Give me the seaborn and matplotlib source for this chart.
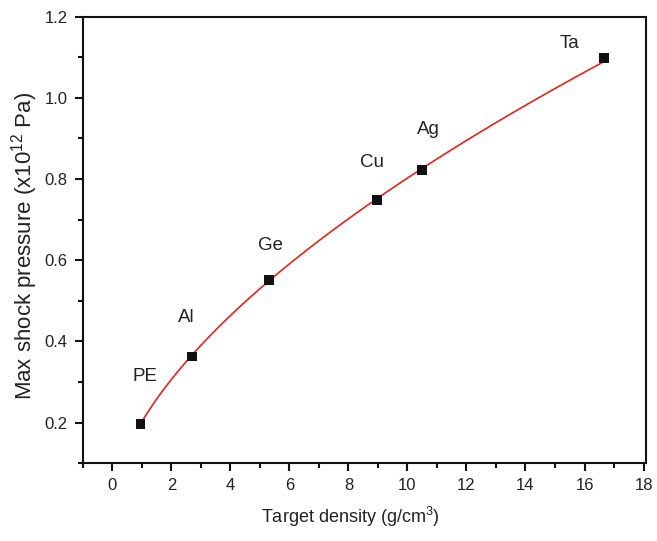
import numpy as np
import pandas as pd
import matplotlib
matplotlib.use("Agg")
import matplotlib.pyplot as plt
from matplotlib.ticker import MultipleLocator, FormatStrFormatter
import seaborn as sns

materials = ["PE", "Al", "Ge", "Cu", "Ag", "Ta"]
density = [0.95, 2.70, 5.32, 8.96, 10.49, 16.65]
pressure = [0.197, 0.363, 0.551, 0.749, 0.822, 1.098]
label_x = [1.1, 2.5, 5.35, 8.8, 10.7, 15.5]
label_y = [0.314, 0.459, 0.637, 0.842, 0.923, 1.133]

sns.set_style("ticks")
plt.rcParams["font.family"] = ["Liberation Sans", "DejaVu Sans"]
plt.rcParams["mathtext.fontset"] = "custom"
plt.rcParams["mathtext.rm"] = "Liberation Sans"

df = pd.DataFrame({"density": density, "pressure": pressure})

# power-law fit for the smooth red curve
b, loga = np.polyfit(np.log(df.density), np.log(df.pressure), 1)
xs = np.linspace(df.density.min(), df.density.max(), 200)
fit = pd.DataFrame({"density": xs, "pressure": np.exp(loga) * xs ** b})

fig = plt.figure(figsize=(6.57, 5.41), dpi=100)
ax = fig.add_axes([0.126, 0.144, 0.858, 0.825])

sns.lineplot(data=fit, x="density", y="pressure", color="#e8231b", lw=1.2, ax=ax)
sns.scatterplot(data=df, x="density", y="pressure", marker="s", s=48, color="#111111",
                edgecolor="none", ax=ax, zorder=3)

for name, lx, ly in zip(materials, label_x, label_y):
    ax.text(lx, ly, name, fontsize=13.5, ha="center", va="center", color="#222222")

ax.set_xlim(-1, 18.1)
ax.set_ylim(0.1, 1.2)
ax.xaxis.set_minor_locator(MultipleLocator(1))
ax.yaxis.set_minor_locator(MultipleLocator(0.1))
ax.set_xticks(np.arange(0, 19, 2))
ax.set_yticks(np.arange(0.2, 1.21, 0.2))
ax.yaxis.set_major_formatter(FormatStrFormatter("%.1f"))

for s in ax.spines.values():
    s.set_linewidth(1.5)
    s.set_color("#111111")
ax.tick_params(which="major", direction="out", length=6, width=1.5, labelsize=12, colors="#111111",
               labelcolor="#222222", top=False, right=False, pad=5)
ax.tick_params(which="minor", direction="out", length=3.5, width=1.5, colors="#111111",
               top=False, right=False)

ax.set_xlabel("Target density (g/cm$^{3}$)", fontsize=13, color="#222222", labelpad=8)
ax.set_ylabel("Max shock pressure (x10$^{12}$ Pa)", fontsize=16, color="#222222", labelpad=3)
ax.xaxis.label.set_x(0.474)
ax.yaxis.label.set_y(0.487)

fig.savefig("out.png", dpi=100)
